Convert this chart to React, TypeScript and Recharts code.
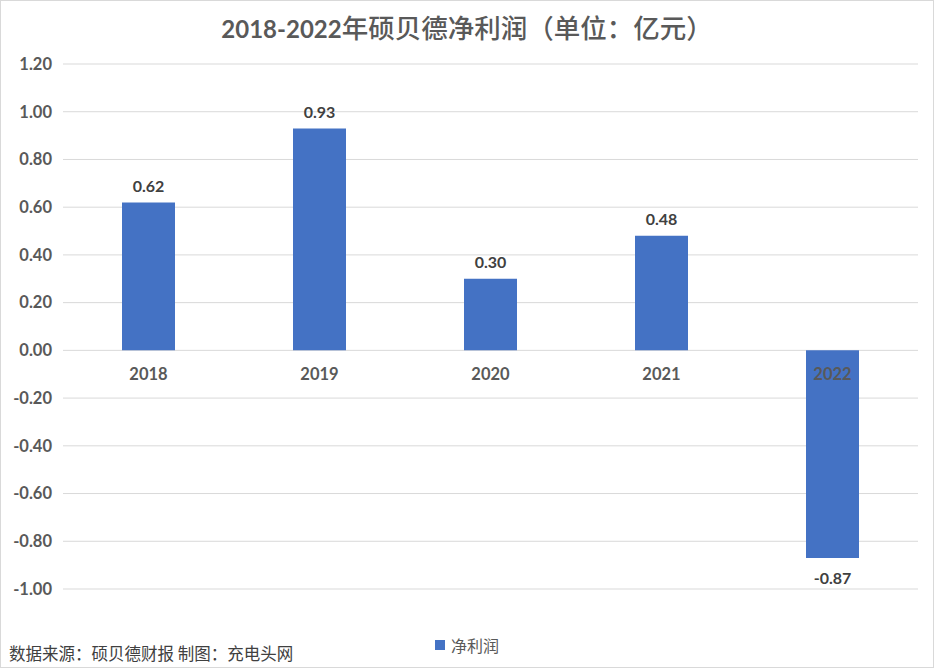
import React from 'react';
import { BarChart, Bar, XAxis, YAxis, CartesianGrid, LabelList, Legend } from 'recharts';

const years = ['2018', '2019', '2020', '2021', '2022'];
const netProfit = [0.62, 0.93, 0.3, 0.48, -0.87];
const yTicks = [-1, -0.8, -0.6, -0.4, -0.2, 0, 0.2, 0.4, 0.6, 0.8, 1, 1.2];
const seriesName = '净利润';
const titleNum = '2018-2022';
const titleText = '年硕贝德净利润（单位：亿元）';
const sourceText = '数据来源：硕贝德财报 制图：充电头网';

const data = years.map((y, i) => ({ year: y, profit: netProfit[i] }));

const FONT = "Lato, 'Noto Sans CJK SC', sans-serif";

function box(props: any) {
  const vb = props.viewBox || {};
  const x = props.x ?? vb.x;
  const y = props.y ?? vb.y;
  const w = props.width ?? vb.width;
  const h = props.height ?? vb.height;
  return { x, y, w, h, top: Math.min(y, y + h), bottom: Math.max(y, y + h) };
}

const ValueLabel = (props: any) => {
  const { x, w, top, bottom } = box(props);
  const v = netProfit[props.index];
  const cy = v >= 0 ? top - 17 : bottom + 20;
  return (
    <text x={x + w / 2} y={cy} textAnchor="middle" dominantBaseline="central"
      fill="#404040" fontSize={16} fontWeight="bold" fontFamily={FONT}>
      {v.toFixed(2)}
    </text>
  );
};

const CategoryLabel = (props: any) => {
  const { x, w, top, bottom } = box(props);
  const v = netProfit[props.index];
  const base = v >= 0 ? bottom : top;
  return (
    <text x={x + w / 2} y={base + 24} textAnchor="middle" dominantBaseline="central"
      fill="#595959" fontSize={16.5} fontWeight="bold" fontFamily={FONT}>
      {years[props.index]}
    </text>
  );
};

const LegendContent = (props: any) => {
  const items = props.payload || [];
  return (
    <div style={{ display: 'flex', justifyContent: 'center', alignItems: 'center', fontFamily: FONT }}>
      {items.map((it: any, i: number) => (
        <div key={i} style={{ display: 'flex', alignItems: 'center' }}>
          <span style={{ display: 'inline-block', width: 10, height: 10, background: it.color, marginRight: 6 }} />
          <span style={{ fontSize: 16, color: '#595959' }}>{it.value}</span>
        </div>
      ))}
    </div>
  );
};

export default function App() {
  return (
    <div style={{ position: 'absolute', left: 0, top: 0, width: 934, height: 668, background: '#fff', fontFamily: FONT }}>
      <BarChart width={934} height={668} data={data} margin={{ top: 64, right: 16, bottom: 79, left: 0 }}>
        <CartesianGrid horizontal vertical={false} stroke="#d9d9d9" />
        <XAxis dataKey="year" hide />
        <YAxis
          width={63}
          domain={[-1, 1.2]}
          ticks={yTicks}
          axisLine={false}
          tickLine={false}
          tickSize={0}
          tickMargin={11}
          tickFormatter={(v: number) => v.toFixed(2)}
          tick={{ fill: '#595959', fontSize: 16.5, fontWeight: 'bold', fontFamily: FONT }}
          interval={0}
        />
        <Legend
          verticalAlign="middle"
          align="center"
          layout="horizontal"
          content={<LegendContent />}
          wrapperStyle={{ top: 633, left: 0, width: 934 }}
        />
        <Bar dataKey="profit" name={seriesName} fill="#4472C4" barSize={53} isAnimationActive={false}>
          <LabelList dataKey="profit" content={<ValueLabel />} />
          <LabelList dataKey="year" content={<CategoryLabel />} />
        </Bar>
      </BarChart>
      <div style={{ position: 'absolute', left: 0, top: 10, width: 934, textAlign: 'center', color: '#595959', fontWeight: 'bold', lineHeight: '34px', whiteSpace: 'nowrap' }}>
        <span style={{ fontSize: 24, fontFamily: FONT }}>{titleNum}</span>
        <span style={{ fontSize: 26.5, fontFamily: "'Noto Sans CJK SC', sans-serif", fontWeight: 500 }}>{titleText}</span>
      </div>
      <div style={{ position: 'absolute', left: 9, top: 641, fontSize: 16.5, color: '#404040', fontFamily: "'Noto Sans CJK SC', sans-serif", lineHeight: '24px', whiteSpace: 'nowrap' }}>
        {sourceText}
      </div>
      <div style={{ position: 'absolute', left: 0, top: 0, width: 934, height: 668, boxSizing: 'border-box', border: '1px solid #d9d9d9', pointerEvents: 'none' }} />
    </div>
  );
}
